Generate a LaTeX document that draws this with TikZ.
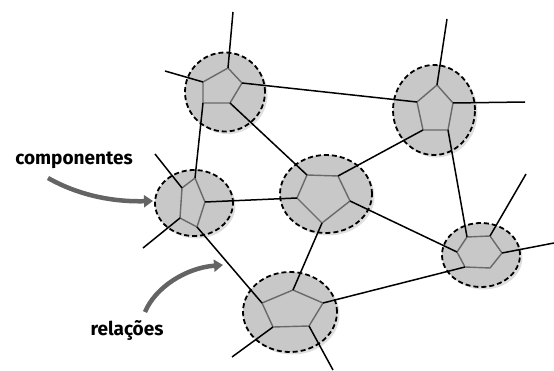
\documentclass[tikz,border=0pt]{standalone}
\usepackage{fontspec}
\setsansfont{Fira Sans}
\usetikzlibrary{shapes.geometric,shadows,arrows.meta}
\definecolor{compgray}{RGB}{200,200,200}
\definecolor{innergray}{RGB}{105,105,105}
\definecolor{arrowgray}{RGB}{100,100,100}
\tikzset{
  comp/.style={ellipse, draw=black, line width=1.8pt, dash pattern=on 5pt off 3pt,
    fill=compgray, inner sep=0pt,
    drop shadow={opacity=0.25, shadow xshift=2.5pt, shadow yshift=-2.5pt}},
  inner/.style={draw=innergray, line width=1.4pt, line join=round},
  rel/.style={draw=black, line width=1.5pt},
  pointer/.style={draw=arrowgray, line width=4.5pt, -{Triangle[length=9pt,width=12pt]}},
  lbl/.style={font=\fontsize{19}{21}\selectfont\sffamily\bfseries, inner sep=0pt},
}
\begin{document}
\begin{tikzpicture}[x=1pt,y=-1pt]
\useasboundingbox (0,0) rectangle (554,371);

%Shapes: components
\node[comp, minimum width=80pt, minimum height=79pt] (c1) at (225,92) {};
\node[comp, minimum width=82pt, minimum height=90pt] (c2) at (434,110) {};
\node[comp, minimum width=92pt, minimum height=78pt] (c3) at (326,194) {};
\node[comp, minimum width=78pt, minimum height=66pt] (c4) at (194,203) {};
\node[comp, minimum width=94pt, minimum height=80pt] (c5) at (290,312) {};
\node[comp, minimum width=78pt, minimum height=64pt] (c6) at (481,255) {};

%Corners of the inner cells
\coordinate (c1t) at (228,68);  \coordinate (c1r) at (242,83);  \coordinate (c1br) at (230,103);
\coordinate (c1bl) at (203,103); \coordinate (c1l) at (203,82);
\coordinate (c2t) at (437,85);  \coordinate (c2r) at (453,103); \coordinate (c2br) at (448,130);
\coordinate (c2bl) at (423,130); \coordinate (c2l) at (417,102);
\coordinate (c3tl) at (307,175); \coordinate (c3tr) at (338,176); \coordinate (c3r) at (350,201);
\coordinate (c3b) at (322,223);  \coordinate (c3l) at (297,198);
\coordinate (c4tr) at (195,178); \coordinate (c4r) at (205,202); \coordinate (c4br) at (197,227);
\coordinate (c4bl) at (180,218); \coordinate (c4tl) at (182,188);
\coordinate (c5t) at (293,290);  \coordinate (c5r) at (323,303); \coordinate (c5br) at (309,326);
\coordinate (c5bl) at (273,327); \coordinate (c5l) at (262,303);
\coordinate (c6tl) at (467,237); \coordinate (c6tr) at (490,236); \coordinate (c6r) at (502,253);
\coordinate (c6br) at (490,268); \coordinate (c6bl) at (465,267); \coordinate (c6l) at (457,252);

%Free ends
\coordinate (e1) at (233,12);  \coordinate (e2) at (165,71);
\coordinate (e3) at (447,19);  \coordinate (e4) at (525,102);
\coordinate (e5) at (526,174); \coordinate (e6) at (554,243);
\coordinate (e7) at (232,357); \coordinate (e8) at (333,370);
\coordinate (e9) at (155,154); \coordinate (e10) at (143,248);

%Inner cells
\draw[inner] (c1t) -- (c1r) -- (c1br) -- (c1bl) -- (c1l) -- cycle;
\draw[inner] (c2t) -- (c2r) -- (c2br) -- (c2bl) -- (c2l) -- cycle;
\draw[inner] (c3tl) -- (c3tr) -- (c3r) -- (c3b) -- (c3l) -- cycle;
\draw[inner] (c4tr) -- (c4r) -- (c4br) -- (c4bl) -- (c4tl) -- cycle;
\draw[inner] (c5t) -- (c5r) -- (c5br) -- (c5bl) -- (c5l) -- cycle;
\draw[inner] (c6tl) -- (c6tr) -- (c6r) -- (c6br) -- (c6bl) -- (c6l) -- cycle;

%Relations
\draw[rel] (c1r) -- (c2l);
\draw[rel] (c1bl) -- (c4tr);
\draw[rel] (c1br) -- (c3tl);
\draw[rel] (c2bl) -- (c3tr);
\draw[rel] (c2br) -- (c6tl);
\draw[rel] (c3l) -- (c4r);
\draw[rel] (c3b) -- (c5t);
\draw[rel] (c3r) -- (c6l);
\draw[rel] (c4br) -- (c5l);
\draw[rel] (c5r) -- (c6bl);
\draw[rel] (c1t) -- (e1);
\draw[rel] (c1l) -- (e2);
\draw[rel] (c2t) -- (e3);
\draw[rel] (c2r) -- (e4);
\draw[rel] (c6tr) -- (e5);
\draw[rel] (c6r) -- (e6);
\draw[rel] (c5bl) -- (e7);
\draw[rel] (c5br) -- (e8);
\draw[rel] (c4tl) -- (e9);
\draw[rel] (c4bl) -- (e10);

% Text Node
\node[lbl] (comps) at (74,160) {componentes};
\node[lbl] (rels) at (127,330) {relações};

%Pointers
\coordinate (a1) at (48,178);  \coordinate (b1) at (153,201);
\coordinate (a2) at (145,312); \coordinate (b2) at (223,265);
\draw[pointer] (a1) .. controls (78,195) and (112,202) .. (b1);
\draw[pointer] (a2) .. controls (155,288) and (185,268) .. (b2);

\end{tikzpicture}
\end{document}
